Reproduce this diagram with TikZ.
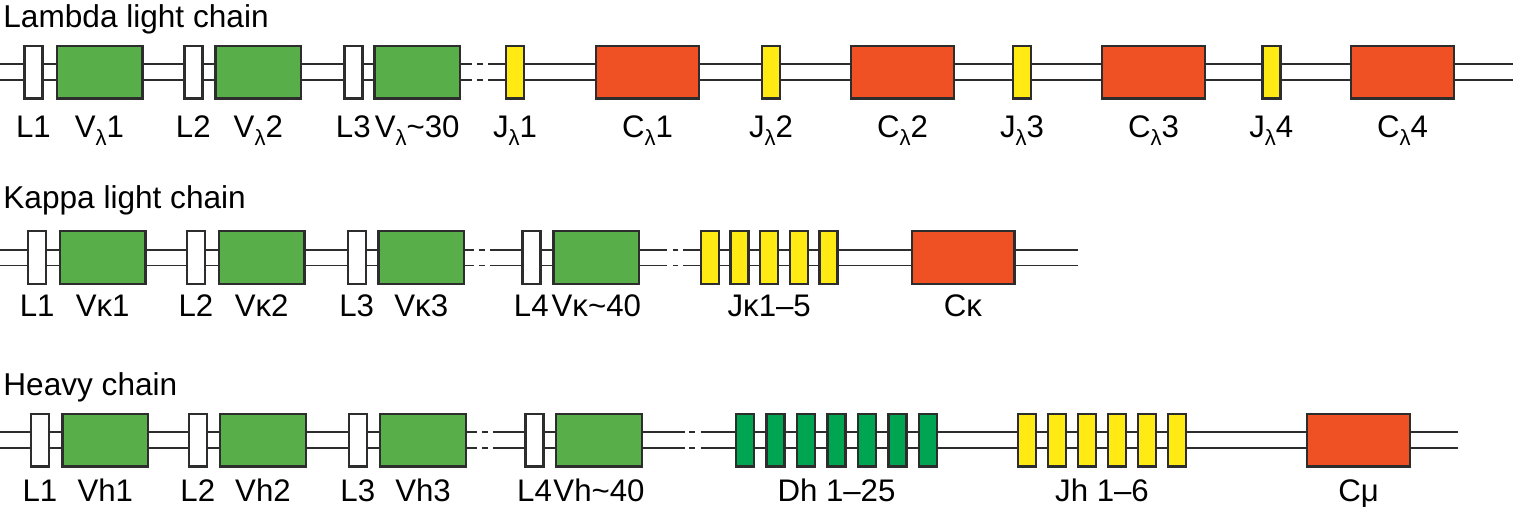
\documentclass[tikz,border=0pt]{standalone}
\usepackage{fontspec}
\setmainfont{Liberation Sans}
\usetikzlibrary{backgrounds,calc}
\definecolor{edge}{RGB}{45,45,45}
\definecolor{vgreen}{RGB}{88,174,72}
\definecolor{dgreen}{RGB}{0,165,82}
\definecolor{jyellow}{RGB}{255,234,20}
\definecolor{cred}{RGB}{240,81,36}
\newcommand{\lsub}[1]{\raisebox{-0.27em}{\fontsize{11}{11}\selectfont #1}}

\begin{document}
\begin{tikzpicture}[x=0.5pt, y=-0.5pt,
    seg/.style = {draw=edge, line width=1.2pt, inner sep=0pt, minimum height=26.3pt},
    leader/.style = {seg, fill=white, minimum width=9pt},
    vseg/.style = {seg, fill=vgreen, minimum width=42.8pt},
    jseg/.style = {seg, fill=jyellow, minimum width=9pt},
    dseg/.style = {seg, fill=dgreen, minimum width=9pt},
    cseg/.style = {seg, fill=cred, minimum width=51.3pt},
    strand/.style = {draw=edge, line width=0.95pt, double=white, double distance=7pt},
    lbl/.style = {anchor=base, inner sep=0pt, font=\fontsize{15.6}{18}\selectfont},
    heading/.style = {anchor=base west, inner sep=0pt, font=\fontsize{15.8}{18}\selectfont}]
    \useasboundingbox (0,0) rectangle (1513,516);

    \node[heading] (lamT) at (3,27) {Lambda light chain};
    \node[leader] (lamL1) at (33.5,72) {};
    \node[vseg] (lamV1) at (99.5,72) {};
    \node[leader] (lamL2) at (193.3,72) {};
    \node[vseg] (lamV2) at (258.3,72) {};
    \node[leader] (lamL3) at (353.3,72) {};
    \node[vseg] (lamV3) at (417.2,72) {};
    \foreach \i/\x in {1/515,2/771,3/1022,4/1271.3}
        \node[jseg] (lamJ\i) at (\x,72) {};
    \foreach \i/\x in {1/647.5,2/902.5,3/1153.5,4/1402.5}
        \node[cseg] (lamC\i) at (\x,72) {};
    \coordinate (lamA) at (0,72);
    \coordinate (lamB) at (1513,72);
    \coordinate (lamBase) at (0,137);

    \node[lbl] (tlamL1) at (lamL1 |- lamBase) {L1};
    \node[lbl] (tlamV1) at (lamV1 |- lamBase) {V\lsub{λ}1};
    \node[lbl] (tlamL2) at (lamL2 |- lamBase) {L2};
    \node[lbl] (tlamV2) at (lamV2 |- lamBase) {V\lsub{λ}2};
    \node[lbl] (tlamL3) at (lamL3 |- lamBase) {L3};
    \node[lbl] (tlamV3) at (lamV3 |- lamBase) {V\lsub{λ}\textasciitilde30};
    \foreach \i in {1,...,4} {
        \node[lbl] (tlamJ\i) at (lamJ\i |- lamBase) {J\lsub{λ}\i};
        \node[lbl] (tlamC\i) at (lamC\i |- lamBase) {C\lsub{λ}\i};
    }

    \node[heading] (kapT) at (3,208) {Kappa light chain};
    \node[leader] (kapL1) at (37.2,257.5) {};
    \node[vseg] (kapV1) at (102.7,257.5) {};
    \node[leader] (kapL2) at (196,257.5) {};
    \node[vseg] (kapV2) at (261.7,257.5) {};
    \node[leader] (kapL3) at (356.7,257.5) {};
    \node[vseg] (kapV3) at (421.3,257.5) {};
    \node[leader] (kapL4) at (531.3,257.5) {};
    \node[vseg] (kapV4) at (596.3,257.5) {};
    \foreach \i in {1,...,5}
        \node[jseg] (kapJ\i) at ({710+29.6*(\i-1)},257.5) {};
    \node[cseg] (kapC) at (963,257.5) {};
    \coordinate (kapA) at (0,257.5);
    \coordinate (kapB) at (1078,257.5);
    \coordinate (kapBase) at (0,316);

    \node[lbl] (tkapL1) at (kapL1 |- kapBase) {L1};
    \node[lbl] (tkapV1) at (kapV1 |- kapBase) {Vκ1};
    \node[lbl] (tkapL2) at (kapL2 |- kapBase) {L2};
    \node[lbl] (tkapV2) at (kapV2 |- kapBase) {Vκ2};
    \node[lbl] (tkapL3) at (kapL3 |- kapBase) {L3};
    \node[lbl] (tkapV3) at (kapV3 |- kapBase) {Vκ3};
    \node[lbl] (tkapL4) at (kapL4 |- kapBase) {L4};
    \node[lbl] (tkapV4) at (kapV4 |- kapBase) {Vκ\textasciitilde40};
    \node[lbl] (tkapJ) at (kapJ3 |- kapBase) {Jκ1–5};
    \node[lbl] (tkapC) at (kapC |- kapBase) {Cκ};

    \node[heading] (hvyT) at (3,395) {Heavy chain};
    \node[leader] (hvyL1) at (40,440) {};
    \node[vseg] (hvyV1) at (105.3,440) {};
    \node[leader] (hvyL2) at (197.8,440) {};
    \node[vseg] (hvyV2) at (263,440) {};
    \node[leader] (hvyL3) at (357.8,440) {};
    \node[vseg] (hvyV3) at (423,440) {};
    \node[leader] (hvyL4) at (534.5,440) {};
    \node[vseg] (hvyV4) at (599,440) {};
    \foreach \i in {1,...,7}
        \node[dseg] (hvyD\i) at ({745+30.5*(\i-1)},440) {};
    \foreach \i in {1,...,6}
        \node[jseg] (hvyJ\i) at ({1027+30*(\i-1)},440) {};
    \node[cseg] (hvyC) at (1358.5,440) {};
    \coordinate (hvyA) at (0,440);
    \coordinate (hvyB) at (1458,440);
    \coordinate (hvyBase) at (0,501.5);
    \coordinate (hvyJm) at ($(hvyJ3)!.5!(hvyJ4)$);

    \node[lbl] (thvyL1) at (hvyL1 |- hvyBase) {L1};
    \node[lbl] (thvyV1) at (hvyV1 |- hvyBase) {Vh1};
    \node[lbl] (thvyL2) at (hvyL2 |- hvyBase) {L2};
    \node[lbl] (thvyV2) at (hvyV2 |- hvyBase) {Vh2};
    \node[lbl] (thvyL3) at (hvyL3 |- hvyBase) {L3};
    \node[lbl] (thvyV3) at (hvyV3 |- hvyBase) {Vh3};
    \node[lbl] (thvyL4) at (hvyL4 |- hvyBase) {L4};
    \node[lbl] (thvyV4) at (hvyV4 |- hvyBase) {Vh\textasciitilde40};
    \node[lbl] (thvyD) at (hvyD4 |- hvyBase) {Dh 1–25};
    \node[lbl] (thvyJ) at (hvyJm |- hvyBase) {Jh 1–6};
    \node[lbl] (thvyC) at (hvyC |- hvyBase) {Cμ};

    \begin{scope}[on background layer]
        \draw[strand] (lamA) -- (lamV3.east);
        \draw[strand, dash pattern=on 5.35pt off 2.65pt on 3pt off 2.5pt on 30pt off 1pt] (lamV3.east) -- (lamJ1.west);
        \draw[strand] (lamJ1.west) -- (lamB);

        \draw[strand] (kapA) -- (kapV3.east);
        \draw[strand, dash pattern=on 4.15pt off 2.5pt on 3.35pt off 2.5pt on 30pt off 1pt] (kapV3.east) -- (kapL4.west);
        \draw[strand] (kapL4.west) -- (kapV4.east);
        \draw[strand, dash pattern=on 13.35pt off 3.15pt on 2.5pt off 2.5pt on 30pt off 1pt] (kapV4.east) -- (kapJ1.west);
        \draw[strand] (kapJ1.west) -- (kapB);

        \draw[strand] (hvyA) -- (hvyV3.east);
        \draw[strand, dash pattern=on 5pt off 2.5pt on 3pt off 2.5pt on 30pt off 1pt] (hvyV3.east) -- (hvyL4.west);
        \draw[strand] (hvyL4.west) -- (hvyV4.east);
        \draw[strand, dash pattern=on 20.8pt off 2.2pt on 2.85pt off 3pt on 30pt off 1pt] (hvyV4.east) -- (hvyD1.west);
        \draw[strand] (hvyD1.west) -- (hvyB);
    \end{scope}
\end{tikzpicture}
\end{document}
